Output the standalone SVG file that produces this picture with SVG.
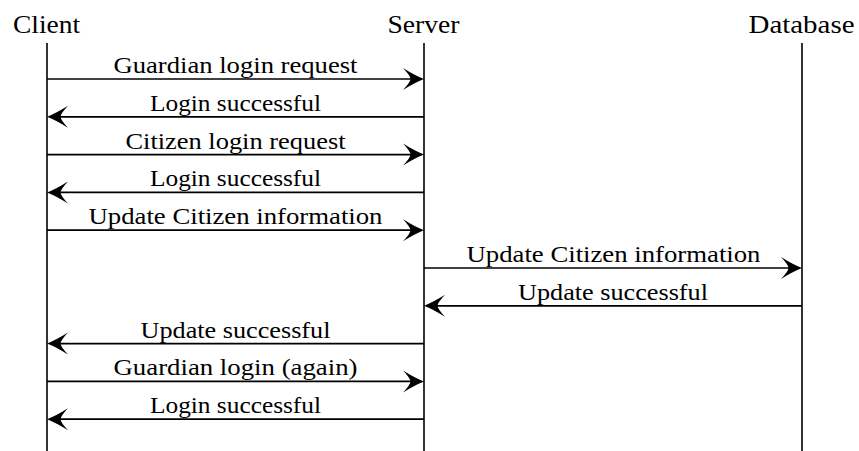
<svg xmlns="http://www.w3.org/2000/svg" width="859" height="451" viewBox="0 0 859 451">
  <style>
    .head { font-family: "Liberation Serif", "Times New Roman", serif; font-size: 25px; fill: #000; text-anchor: middle; }
    .lbl { font-family: "Liberation Serif", "Times New Roman", serif; font-size: 24px; fill: #000; text-anchor: middle; }
    .life { stroke: #000; stroke-width: 1.6; fill: none; }
    .msg { stroke: #000; stroke-width: 1.7; fill: none; marker-end: url(#head); }
  </style>
  <defs>
    <!-- curved stealth-style arrowhead, tip at origin -->
    <marker id="head" markerUnits="userSpaceOnUse" viewBox="-23 -12 24 24" refX="-10" refY="0" markerWidth="24" markerHeight="24" orient="auto">
      <path d="M0,0 Q-9,-3.5 -21,-11 Q-13.5,-3 -13.5,0 Q-13.5,3 -21,11 Q-9,3.5 0,0 Z" fill="#000"/>
    </marker>
  </defs>

  <!-- participants -->
  <g id="client">
    <text class="head" x="46.5" y="33" textLength="67" lengthAdjust="spacingAndGlyphs">Client</text>
    <line class="life" x1="47" y1="43" x2="47" y2="451"/>
  </g>
  <g id="server">
    <text class="head" x="423.5" y="33" textLength="72" lengthAdjust="spacingAndGlyphs">Server</text>
    <line class="life" x1="424" y1="43" x2="424" y2="451"/>
  </g>
  <g id="database">
    <text class="head" x="801.5" y="33" textLength="106" lengthAdjust="spacingAndGlyphs">Database</text>
    <line class="life" x1="802" y1="43" x2="802" y2="451"/>
  </g>

  <!-- messages -->
  <g id="messages">
    <line class="msg" x1="47" y1="79" x2="414" y2="79"/>
    <text class="lbl" x="235.5" y="73" textLength="244" lengthAdjust="spacingAndGlyphs">Guardian login request</text>

    <line class="msg" x1="424" y1="116.8" x2="57" y2="116.8"/>
    <text class="lbl" x="235.5" y="110.8" textLength="171" lengthAdjust="spacingAndGlyphs">Login successful</text>

    <line class="msg" x1="47" y1="154.6" x2="414" y2="154.6"/>
    <text class="lbl" x="235.5" y="148.6" textLength="220" lengthAdjust="spacingAndGlyphs">Citizen login request</text>

    <line class="msg" x1="424" y1="192.4" x2="57" y2="192.4"/>
    <text class="lbl" x="235.5" y="186.4" textLength="171" lengthAdjust="spacingAndGlyphs">Login successful</text>

    <line class="msg" x1="47" y1="230.2" x2="414" y2="230.2"/>
    <text class="lbl" x="235.5" y="224.2" textLength="294" lengthAdjust="spacingAndGlyphs">Update Citizen information</text>

    <line class="msg" x1="424" y1="268" x2="792" y2="268"/>
    <text class="lbl" x="613.5" y="262" textLength="294" lengthAdjust="spacingAndGlyphs">Update Citizen information</text>

    <line class="msg" x1="802" y1="305.8" x2="434" y2="305.8"/>
    <text class="lbl" x="613" y="299.8" textLength="190" lengthAdjust="spacingAndGlyphs">Update successful</text>

    <line class="msg" x1="424" y1="343.6" x2="57" y2="343.6"/>
    <text class="lbl" x="235.5" y="337.6" textLength="190" lengthAdjust="spacingAndGlyphs">Update successful</text>

    <line class="msg" x1="47" y1="381.4" x2="414" y2="381.4"/>
    <text class="lbl" x="235.5" y="375.4" textLength="244" lengthAdjust="spacingAndGlyphs">Guardian login (again)</text>

    <line class="msg" x1="424" y1="419.2" x2="57" y2="419.2"/>
    <text class="lbl" x="235.5" y="413.2" textLength="171" lengthAdjust="spacingAndGlyphs">Login successful</text>
  </g>
</svg>
